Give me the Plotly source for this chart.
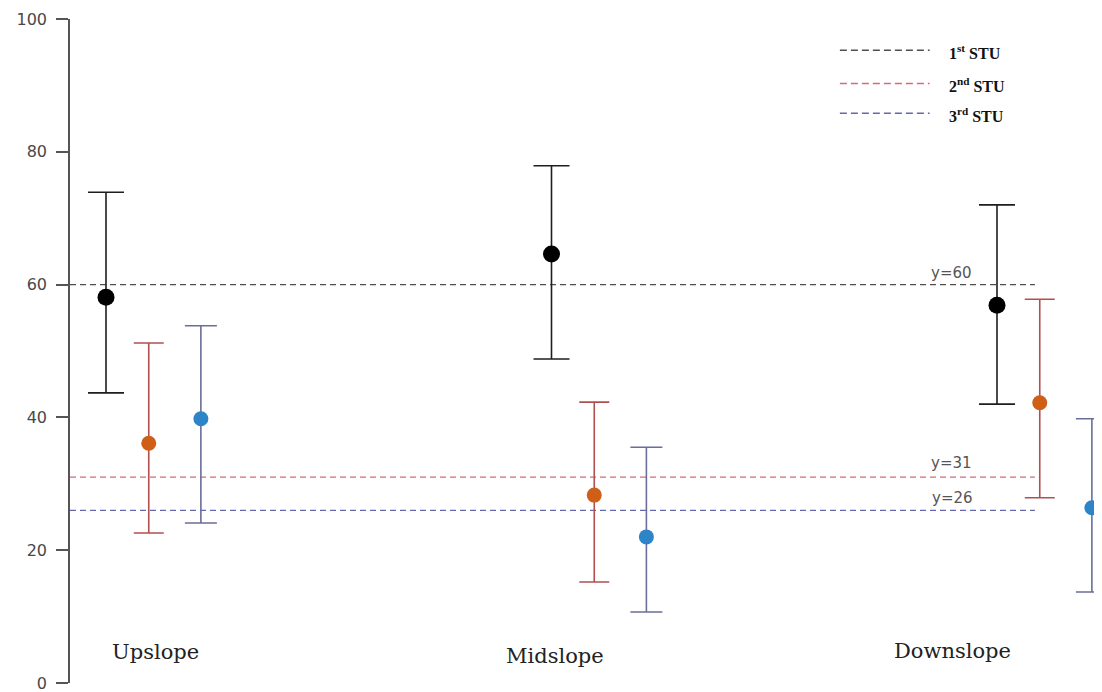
import plotly.graph_objects as go

# slope positions
positions = ["Upslope", "Midslope", "Downslope"]

# mean values and error bar ends
stu1_mean = [58.1, 64.6, 56.9]
stu1_upper = [73.9, 77.9, 72.0]
stu1_lower = [43.7, 48.8, 42.0]

stu2_mean = [36.1, 28.3, 42.2]
stu2_upper = [51.2, 42.3, 57.8]
stu2_lower = [22.6, 15.2, 27.9]

stu3_mean = [39.8, 22.0, 26.4]
stu3_upper = [53.8, 35.5, 39.8]
stu3_lower = [24.1, 10.7, 13.7]

# reference lines
ref_values = [60, 31, 26]
ref_labels = ["y=60", "y=31", "y=26"]
legend_labels = ["1<sup>st</sup> STU", "2<sup>nd</sup> STU", "3<sup>rd</sup> STU"]

y_ticks = [0, 20, 40, 60, 80, 100]

series = [
    (stu1_mean, stu1_upper, stu1_lower, "#000000", "#1e1e1e", 17, 18, 0.0),
    (stu2_mean, stu2_upper, stu2_lower, "#cf5f17", "#b25050", 15, 15, 0.096),
    (stu3_mean, stu3_upper, stu3_lower, "#2d84c6", "#6b6e98", 15, 16, 0.213),
]
ref_colors = ["#505050", "#d66a7c", "#6468aa"]

fig = go.Figure()

for mean, upper, lower, mcol, ecol, msize, capw, offset in series:
    xs = [i + offset for i in range(len(positions))]
    fig.add_trace(go.Scatter(
        x=xs,
        y=mean,
        mode="markers",
        marker=dict(color=mcol, size=msize),
        error_y=dict(
            type="data",
            symmetric=False,
            array=[u - m for u, m in zip(upper, mean)],
            arrayminus=[m - l for m, l in zip(mean, lower)],
            color=ecol,
            thickness=1.6,
            width=capw,
        ),
        showlegend=False,
        cliponaxis=False,
    ))

# dashed reference lines with labels
label_x = [0.876, 0.876, 0.877]
label_up = [12, 14, 12]
for val, lab, col, lx, up in zip(ref_values, ref_labels, ref_colors, label_x, label_up):
    fig.add_shape(type="line", xref="paper", yref="y", x0=0, x1=0.935, y0=val, y1=val,
                  line=dict(color=col, width=1.3, dash="6px,4px"), layer="below")
    fig.add_annotation(xref="paper", yref="y", x=lx, y=val, yshift=up, text=lab,
                       showarrow=False, font=dict(family="DejaVu Sans", size=15, color="#555555"))

# legend drawn by hand in the top right corner
leg_y = [0.953, 0.903, 0.858]
for lab, col, ly in zip(legend_labels, ref_colors, leg_y):
    fig.add_shape(type="line", xref="paper", yref="paper", x0=0.746, x1=0.833, y0=ly, y1=ly,
                  line=dict(color=col, width=1.5, dash="7px,4px"))
    fig.add_annotation(xref="paper", yref="paper", x=0.850, y=ly, yshift=10, xanchor="left", text=lab,
                       showarrow=False, font=dict(family="Liberation Serif", size=16, color="#111111",
                                                  weight="bold"))

# slope labels along the bottom
cat_x = [0.11, 1.008, 1.901]
cat_y = [4.7, 4.1, 4.8]
for name, cx, cy in zip(positions, cat_x, cat_y):
    fig.add_annotation(x=cx, y=cy, text=name, showarrow=False,
                       font=dict(family="DejaVu Serif", size=21, color="#222222"))

# the page body adds an 8px margin, so the figure is made 8px smaller each way
fig.update_layout(
    width=1094,
    height=684,
    margin=dict(l=62, r=0, t=11, b=9),
    plot_bgcolor="white",
    paper_bgcolor="white",
    showlegend=False,
)

fig.update_xaxes(
    range=[-0.0808, 2.2357],
    visible=False,
)

fig.update_yaxes(
    range=[0, 100],
    tickvals=y_ticks,
    showgrid=False,
    zeroline=False,
    showline=True,
    linecolor="#555555",
    linewidth=1.5,
    ticks="outside",
    ticklen=12,
    tickcolor="#555555",
    tickwidth=1.5,
    ticklabelstandoff=6,
    ticklabeloverflow="allow",
    tickfont=dict(family="DejaVu Sans", size=16, color="#484848"),
)

fig.write_html("out.html")
